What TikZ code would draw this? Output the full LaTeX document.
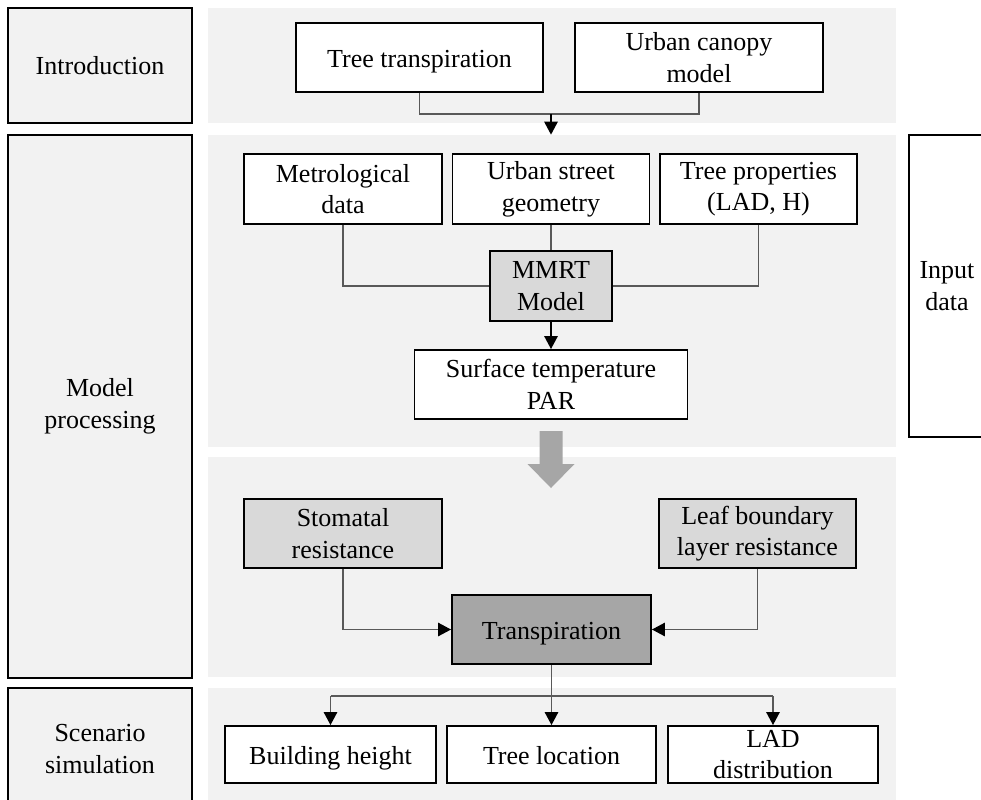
\documentclass[tikz,border=0pt]{standalone}
\usepackage{fontspec}
\setmainfont{Liberation Serif}
\usetikzlibrary{arrows.meta}

\begin{document}
\begin{tikzpicture}[font=\fontsize{14.8}{18}\selectfont,
	panel/.style={fill=black!5, inner sep=0pt},
	side/.style={draw, line width=1.2pt, fill=black!5, align=center, inner sep=0pt},
	box/.style={draw, line width=1.1pt, fill=white, align=center, inner sep=0pt},
	single/.style={text height=11pt, text depth=0pt},
	gline/.style={draw=black!65, line width=0.8pt},
	tip/.style={-{Triangle[length=0.26cm,width=0.27cm,color=black]}}]
			\useasboundingbox (0,0) rectangle (19.62,-15.98);
			
			\node[side, minimum width=3.68cm, minimum height=2.30cm] (intro) at (2,-1.31) {Introduction};
			\node[side, minimum width=3.68cm, minimum height=10.86cm] (model) at (2,-8.13) {Model\\processing};
			\node[side, minimum width=3.68cm, minimum height=2.44cm] (scen) at (2,-14.98) {Scenario\\simulation};
			\node[box, line width=1.2pt, minimum width=1.52cm, minimum height=6.04cm] (input) at (18.94,-5.72) {Input\\data};
			
			\node[panel, minimum width=13.76cm, minimum height=2.30cm] (introbg) at (11.04,-1.31) {};
			\node[panel, minimum width=13.76cm, minimum height=6.24cm] (modelbg) at (11.04,-5.82) {};
			\node[panel, minimum width=13.76cm, minimum height=4.40cm] (transbg) at (11.04,-11.34) {};
			\node[panel, minimum width=13.76cm, minimum height=2.44cm] (scenbg) at (11.04,-14.98) {};
			
			\node[box, single, minimum width=4.94cm, minimum height=1.38cm] (trans) at (8.39,-1.15) {Tree transpiration};
			\node[box, minimum width=4.96cm, minimum height=1.38cm] (canopy) at (13.98,-1.15) {Urban canopy\\model};
			\coordinate (introjoin) at (11.02,-2.28);
			\draw[gline] (trans.south) |- (canopy.south |- introjoin) -- (canopy.south);
			\draw[tip, line width=0.8pt] (introjoin) -- (introjoin |- modelbg.north);
			
			\node[box, minimum width=3.96cm, minimum height=1.40cm] (met) at (6.86,-3.78) {Metrological\\data};
			\node[box, minimum width=3.94cm, minimum height=1.40cm] (street) at (11.02,-3.78) {Urban street\\geometry};
			\node[box, minimum width=3.94cm, minimum height=1.40cm] (prop) at (15.17,-3.78) {Tree properties\\(LAD, H)};
			\node[box, fill=black!15, minimum width=2.44cm, minimum height=1.40cm] (mmrt) at (11.02,-5.72) {MMRT\\Model};
			\node[box, minimum width=5.46cm, minimum height=1.38cm] (surf) at (11.02,-7.69) {Surface temperature\\PAR};
			\draw[gline] (met.south) |- (mmrt.west);
			\draw[gline] (prop.south) |- (mmrt.east);
			\draw[gline] (street.south) -- (mmrt.north);
			\draw[tip, line width=0.8pt] (mmrt.south) -- (surf.north);
			
			\fill[black!35] (10.79,-8.62) -- (11.25,-8.62) -- (11.25,-9.28) -- (11.49,-9.28)
				-- (11.02,-9.76) -- (10.55,-9.28) -- (10.79,-9.28) -- cycle;
			
			\node[box, fill=black!15, minimum width=3.96cm, minimum height=1.38cm] (stom) at (6.86,-10.67) {Stomatal\\resistance};
			\node[box, fill=black!15, minimum width=3.94cm, minimum height=1.38cm] (leaf) at (15.15,-10.67) {Leaf boundary\\layer resistance};
			\node[box, single, fill=black!35, minimum width=3.98cm, minimum height=1.38cm] (transp) at (11.03,-12.59) {Transpiration};
			\draw[gline, tip] (stom.south) |- (transp.west);
			\draw[gline, tip] (leaf.south) |- (transp.east);
			
			\node[box, single, minimum width=4.22cm, minimum height=1.14cm] (bh) at (6.61,-15.09) {Building height};
			\node[box, single, minimum width=4.18cm, minimum height=1.14cm] (tl) at (11.03,-15.09) {Tree location};
			\node[box, minimum width=4.20cm, minimum height=1.14cm] (lad) at (15.46,-15.09) {LAD\\distribution};
			\coordinate (split) at (11.03,-13.92);
			\draw[gline] (split -| bh.north) -- (split -| lad.north);
			\draw[gline, tip] (transp.south) -- (tl.north);
			\draw[gline, tip] (split -| bh.north) -- (bh.north);
			\draw[gline, tip] (split -| lad.north) -- (lad.north);
		\end{tikzpicture}
\end{document}
